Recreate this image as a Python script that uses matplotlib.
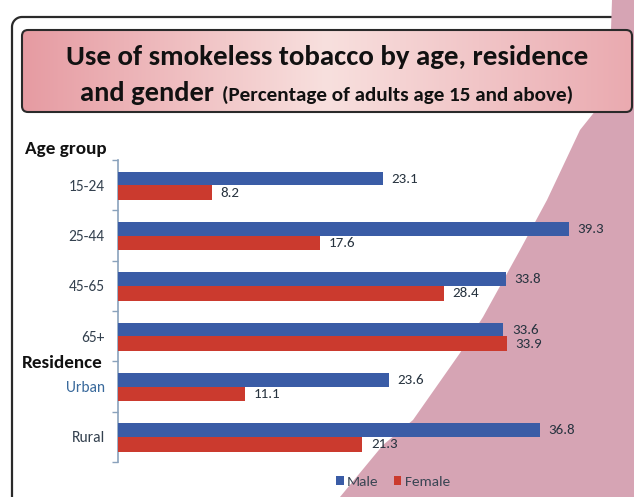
import numpy as np
import matplotlib
matplotlib.use("Agg")
import matplotlib.pyplot as plt
from matplotlib.patches import Polygon, FancyBboxPatch, Patch

categories = ["15-24", "25-44", "45-65", "65+", "Urban", "Rural"]
male = [23.1, 39.3, 33.8, 33.6, 23.6, 36.8]
female = [8.2, 17.6, 28.4, 33.9, 11.1, 21.3]
series_names = ["Male", "Female"]

plt.rcParams["font.family"] = ["Carlito", "DejaVu Sans"]

W, H = 634, 497
fig = plt.figure(figsize=(W / 100, H / 100), dpi=100)

# background layer in pixel coordinates
bg = fig.add_axes([0, 0, 1, 1])
bg.axis("off")

# outer frame (left and top lines with rounded corner)
r = 10
th = np.linspace(np.pi, 1.5 * np.pi, 20)
fx = np.concatenate([[12, 12], 12 + r + r * np.cos(th), [W + 5]])
fy = np.concatenate([[H + 5, 17 + r], 17 + r + r * np.sin(th), [17]])
bg.plot(fx, fy, color="#2a2a2a", lw=1.6, zorder=1)

# pink diagonal region
pts = [(612, 0), (610, 60), (600, 105), (580, 130), (547, 200), (520, 250),
       (483, 317), (460, 353), (413, 420), (383, 445), (340, 497),
       (W, H), (W, 0)]
bg.add_patch(Polygon(pts, closed=True, facecolor="#d6a4b4", edgecolor="none", zorder=2))

# title box with gradient
box = FancyBboxPatch((22, 30), 610, 82, boxstyle="round,pad=0,rounding_size=6",
                     facecolor="none", edgecolor="#2a2a2a", lw=1.5, zorder=4)
bg.add_patch(box)
c_left = np.array([230, 155, 162]) / 255
c_mid = np.array([248, 224, 222]) / 255
c_right = np.array([234, 170, 176]) / 255
grad = np.linspace(0, 1, 256)
img = np.zeros((2, 256, 3))
for i, t in enumerate(grad):
    if t < 0.5:
        c = c_left + (c_mid - c_left) * (t / 0.5)
    else:
        c = c_mid + (c_right - c_mid) * ((t - 0.5) / 0.5)
    img[:, i, :] = c
im = bg.imshow(img, extent=[22, 632, 112, 30], aspect="auto", zorder=3)
im.set_clip_path(box)
bg.set_xlim(0, W)
bg.set_ylim(H, 0)

bg.text(327, 57, "Use of smokeless tobacco by age, residence", ha="center", va="center",
        fontsize=20.8, fontweight="bold", color="#111111", zorder=5)
bg.text(80, 93, "and gender", ha="left", va="center",
        fontsize=20.5, fontweight="bold", color="#111111", zorder=5)
bg.text(222, 95, "(Percentage of adults age 15 and above)", ha="left", va="center",
        fontsize=15.2, fontweight="bold", color="#111111", zorder=5)

bg.text(25, 149, "Age group", ha="left", va="center", fontsize=13.8,
        fontweight="bold", color="#111111", zorder=5)
bg.text(103, 363, "Residence", ha="right", va="center", fontsize=13.8,
        fontweight="bold", color="#111111", zorder=5)

# chart axes
left_px, right_px, top_px, bot_px = 118, 634, 160, 462
ax = fig.add_axes([left_px / W, 1 - bot_px / H, (right_px - left_px) / W, (bot_px - top_px) / H])
ax.patch.set_alpha(0)
y = np.arange(len(categories))
ax.barh(y - 0.13, male, height=0.27, color="#3a5ca6", edgecolor="none", zorder=3)
ax.barh(y + 0.15, female, height=0.29, color="#cb3a2e", edgecolor="none", zorder=3)
for yi, v in zip(y, male):
    ax.text(v + 0.75, yi - 0.13, f"{v}", va="center", ha="left", fontsize=10.8, color="#27333f")
for yi, v in zip(y, female):
    ax.text(v + 0.75, yi + 0.15, f"{v}", va="center", ha="left", fontsize=10.8, color="#27333f")

ax.set_xlim(0, (right_px - left_px) / 11.47)
ax.set_ylim(len(categories) - 0.5, -0.5)
ax.set_xticks([])
ax.set_yticks(y)
ax.set_yticklabels(categories, fontsize=11.2)
for lab in ax.get_yticklabels():
    lab.set_color("#34414f")
ax.get_yticklabels()[4].set_color("#3a6a9c")
ax.tick_params(axis="y", which="major", length=0, pad=9.5)
ax.set_yticks(np.arange(-0.5, len(categories)), minor=True)
ax.tick_params(axis="y", which="minor", length=4, width=1, color="#8aa2bc", direction="out")
for s in ["top", "right", "bottom"]:
    ax.spines[s].set_visible(False)
ax.spines["left"].set_color("#8aa2bc")
ax.spines["left"].set_linewidth(1.2)

handles = [Patch(facecolor="#3a5ca6"), Patch(facecolor="#cb3a2e")]
leg = fig.legend(handles, series_names, loc="center", bbox_to_anchor=(393 / W, 1 - 482 / H),
                 ncol=2, frameon=False, fontsize=11, handlelength=0.5, handleheight=0.5,
                 handletextpad=0.2, columnspacing=1.0)
for t in leg.get_texts():
    t.set_color("#3a4654")

fig.savefig("out.png", dpi=100)
